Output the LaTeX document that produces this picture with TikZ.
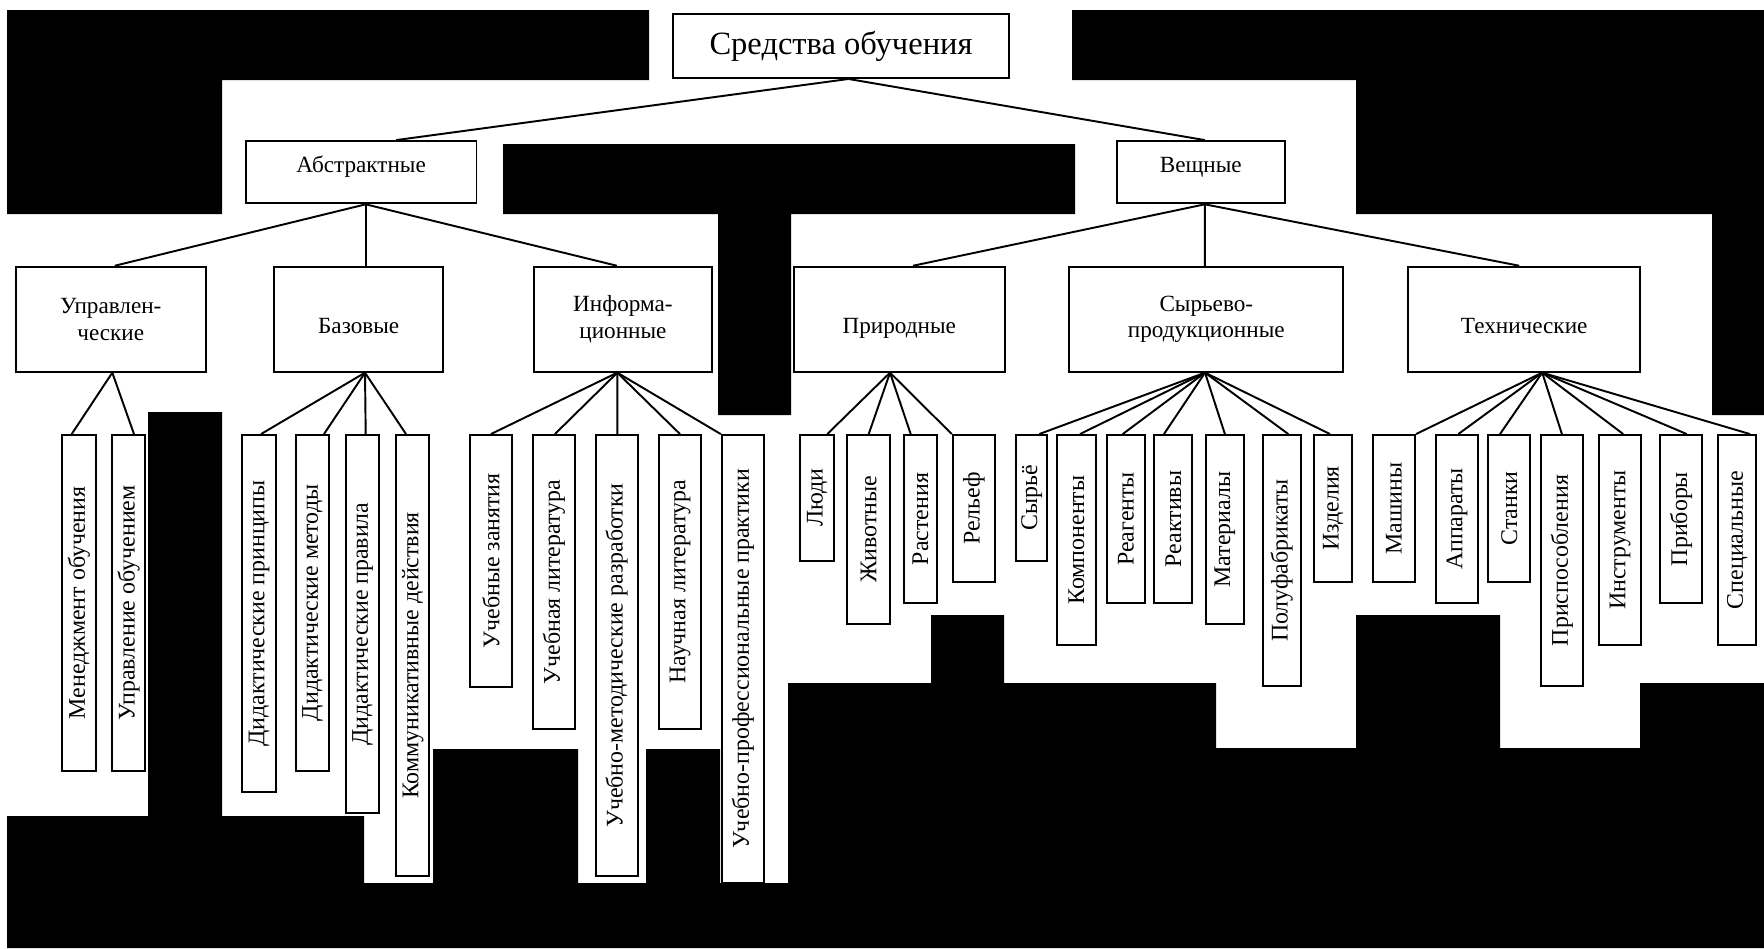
\documentclass[tikz,border=0pt]{standalone}
\usepackage{fontspec}
\setmainfont{Liberation Serif}
\usepackage{graphicx}
\usetikzlibrary{calc}

\newcommand{\vtext}[1]{\rotatebox{90}{\fontsize{13.6}{15}\selectfont #1}}

\begin{document}
\begin{tikzpicture}[x=0.02cm, y=-0.02cm,
  box/.style={draw, fill=white, line width=1.1pt, inner sep=0pt, align=center,
    font=\fontsize{13.2}{15.2}\selectfont},
  mid/.style={text height=6pt, text depth=6pt},
  low/.style={text height=18pt, text depth=2pt},
  link/.style={line width=1.1pt}]
 \useasboundingbox (0,0) rectangle (1764,948);
 % dark areas of the scan
 \fill (7,10) -- (649,10) -- (649,80) -- (222,80) -- (222,214) -- (7,214) -- cycle;
 \fill (503,144) -- (1075,144) -- (1075,214) -- (791,214) -- (791,415) -- (718,415)
   -- (718,214) -- (503,214) -- cycle;
 \fill (1072,10) -- (1764,10) -- (1764,415) -- (1712,415) -- (1712,214) -- (1356,214)
   -- (1356,80) -- (1072,80) -- cycle;
 \fill (7,948) -- (7,816) -- (148,816) -- (148,412) -- (222,412) -- (222,816) -- (364,816)
   -- (364,883) -- (433,883) -- (433,749) -- (578,749) -- (578,883) -- (646,883)
   -- (646,749) -- (720,749) -- (720,883) -- (788,883) -- (788,683) -- (931,683)
   -- (931,615) -- (1004,615) -- (1004,683) -- (1216,683) -- (1216,748) -- (1356,748)
   -- (1356,615) -- (1500,615) -- (1500,748) -- (1640,748) -- (1640,683) -- (1764,683)
   -- (1764,948) -- cycle;

 % top levels
 \node (title) [box, minimum width=6.72cm, minimum height=1.28cm,
   font=\fontsize{18.5}{22}\selectfont] at (841,46) {Средства обучения};
 \node (abs)  [box, mid, minimum width=4.616cm, minimum height=1.246cm] at (361.1,172.2) {Абстрактные};
 \node (vesh) [box, mid, minimum width=3.368cm, minimum height=1.246cm] at (1200.8,172.2) {Вещные};

 \node (upr)  [box, minimum width=3.79cm,  minimum height=2.1cm] at (110.8,319.2) {Управлен-\\ческие};
 \node (baz)  [box, low, minimum width=3.386cm, minimum height=2.1cm] at (358.7,319.2) {Базовые};
 \node (inf)  [box, minimum width=3.554cm, minimum height=2.1cm] at (622.9,319.2) {Информа-\\ционные};
 \node (prir) [box, low, minimum width=4.23cm,  minimum height=2.1cm] at (899.3,319.2) {Природные};
 \node (syr)  [box, minimum width=5.48cm,  minimum height=2.1cm] at (1206.3,319.2) {Сырьево-\\продукционные};
 \node (tech) [box, low, minimum width=4.634cm, minimum height=2.1cm] at (1524.2,319.2) {Технические};

 % leaves
 \node (men)   [box, minimum width=0.668cm, minimum height=6.712cm] at (79,602.8)    {\vtext{Менеджмент обучения}};
 \node (uprob) [box, minimum width=0.654cm, minimum height=6.712cm] at (128.7,602.8) {\vtext{Управление обучением}};
 \node (dp)    [box, minimum width=0.668cm, minimum height=7.14cm]  at (259,613.5)   {\vtext{Дидактические принципы}};
 \node (dm)    [box, minimum width=0.672cm, minimum height=6.712cm] at (312.5,602.8) {\vtext{Дидактические методы}};
 \node (dpr)   [box, minimum width=0.672cm, minimum height=7.56cm]  at (362.5,624)   {\vtext{Дидактические правила}};
 \node (kd)    [box, minimum width=0.666cm, minimum height=8.82cm]  at (412.7,655.5) {\vtext{Коммуникативные действия}};
 \node (uz)    [box, minimum width=0.834cm, minimum height=5.032cm] at (490.9,560.8) {\vtext{Учебные занятия}};
 \node (ul)    [box, minimum width=0.846cm, minimum height=5.88cm]  at (553.9,582)   {\vtext{Учебная литература}};
 \node (umr)   [box, minimum width=0.84cm,  minimum height=8.82cm]  at (616.7,655.5) {\vtext{Учебно-методические разработки}};
 \node (nl)    [box, minimum width=0.84cm,  minimum height=5.88cm]  at (680,582)     {\vtext{Научная литература}};
 \node (upp)   [box, minimum width=0.846cm, minimum height=8.96cm]  at (742.9,659)   {\vtext{Учебно-профессиональные практики}};

 \node (ludi)  [box, minimum width=0.68cm,  minimum height=2.512cm] at (817,497.8)    {\vtext{Люди}};
 \node (ziv)   [box, minimum width=0.854cm, minimum height=3.78cm]  at (868.7,529.5)  {\vtext{Животные}};
 \node (rast)  [box, minimum width=0.654cm, minimum height=3.36cm]  at (920.4,519)    {\vtext{Растения}};
 \node (rel)   [box, minimum width=0.846cm, minimum height=2.94cm]  at (973.9,508.5)  {\vtext{Рельеф}};
 \node (syre)  [box, minimum width=0.626cm, minimum height=2.512cm] at (1031.7,497.8) {\vtext{Сырьё}};
 \node (komp)  [box, minimum width=0.768cm, minimum height=4.2cm]   at (1076.5,540)   {\vtext{Компоненты}};
 \node (reag)  [box, minimum width=0.766cm, minimum height=3.36cm]  at (1125.9,519)   {\vtext{Реагенты}};
 \node (reakt) [box, minimum width=0.76cm,  minimum height=3.36cm]  at (1173.3,519)   {\vtext{Реактивы}};
 \node (mat)   [box, minimum width=0.766cm, minimum height=3.78cm]  at (1224.9,529.5) {\vtext{Материалы}};
 \node (pf)    [box, minimum width=0.76cm,  minimum height=5.02cm]  at (1281.7,560.5) {\vtext{Полуфабрикаты}};
 \node (izd)   [box, minimum width=0.766cm, minimum height=2.94cm]  at (1333.2,508.5) {\vtext{Изделия}};
 \node (mash)  [box, minimum width=0.846cm, minimum height=2.94cm]  at (1393.9,508.5) {\vtext{Машины}};
 \node (app)   [box, minimum width=0.84cm,  minimum height=3.36cm]  at (1457,519)     {\vtext{Аппараты}};
 \node (stan)  [box, minimum width=0.834cm, minimum height=2.94cm]  at (1509.2,508.5) {\vtext{Станки}};
 \node (prisp) [box, minimum width=0.846cm, minimum height=5.02cm]  at (1561.9,560.5) {\vtext{Приспособления}};
 \node (instr) [box, minimum width=0.834cm, minimum height=4.2cm]   at (1620.2,540)   {\vtext{Инструменты}};
 \node (prib)  [box, minimum width=0.846cm, minimum height=3.36cm]  at (1681.2,519)   {\vtext{Приборы}};
 \node (spec)  [box, minimum width=0.754cm, minimum height=4.2cm]   at (1737.2,540)   {\vtext{Специальные}};

 % connectors
 \draw [link] ($(title.south)+(7.5,0)$) -- ($(abs.north)+(35,0)$);
 \draw [link] ($(title.south)+(7.5,0)$) -- ($(vesh.north)+(4,0)$);

 \draw [link] ($(abs.south)+(4.6,0)$) -- ($(upr.north)+(4,0)$);
 \draw [link] ($(abs.south)+(4.6,0)$) -- ($(baz.north)+(7,0)$);
 \draw [link] ($(abs.south)+(4.6,0)$) -- ($(inf.north)+(-6,0)$);
 \draw [link] ($(vesh.south)+(4,0)$) -- ($(prir.north)+(13.7,0)$);
 \draw [link] ($(vesh.south)+(4,0)$) -- ($(syr.north)+(-1.5,0)$);
 \draw [link] ($(vesh.south)+(4,0)$) -- ($(tech.north)+(-5,0)$);

 \draw [link] ($(upr.south)+(1.5,0)$) -- ($(men.north)+(-7.3,0)$);
 \draw [link] ($(upr.south)+(1.5,0)$) -- ($(uprob.north)+(5.3,0)$);

 \draw [link] ($(baz.south)+(6.3,0)$) -- ($(dp.north)+(2,0)$);
 \draw [link] ($(baz.south)+(6.3,0)$) -- ($(dm.north)+(11.5,0)$);
 \draw [link] ($(baz.south)+(6.3,0)$) -- ($(dpr.north)+(3.2,0)$);
 \draw [link] ($(baz.south)+(6.3,0)$) -- ($(kd.north)+(-6.7,0)$);

 \draw [link] ($(inf.south)+(-5.6,0)$) -- (uz.north);
 \draw [link] ($(inf.south)+(-5.6,0)$) -- ($(ul.north)+(1,0)$);
 \draw [link] ($(inf.south)+(-5.6,0)$) -- ($(umr.north)+(0.6,0)$);
 \draw [link] ($(inf.south)+(-5.6,0)$) -- (nl.north);
 \draw [link] ($(inf.south)+(-5.6,0)$) -- (upp.north west);

 \draw [link] ($(prir.south)+(-9.3,0)$) -- ($(ludi.north)+(10.3,0)$);
 \draw [link] ($(prir.south)+(-9.3,0)$) -- (ziv.north);
 \draw [link] ($(prir.south)+(-9.3,0)$) -- ($(rast.north)+(-9.7,0)$);
 \draw [link] ($(prir.south)+(-9.3,0)$) -- (rel.north west);

 \draw [link] ($(syr.south)+(-1.3,0)$) -- ($(syre.north)+(7.6,0)$);
 \draw [link] ($(syr.south)+(-1.3,0)$) -- ($(komp.north)+(3.5,0)$);
 \draw [link] ($(syr.south)+(-1.3,0)$) -- ($(reag.north)+(-3.2,0)$);
 \draw [link] ($(syr.south)+(-1.3,0)$) -- ($(reakt.north)+(-9.3,0)$);
 \draw [link] ($(syr.south)+(-1.3,0)$) -- (mat.north);
 \draw [link] ($(syr.south)+(-1.3,0)$) -- ($(pf.north)+(6.6,0)$);
 \draw [link] ($(syr.south)+(-1.3,0)$) -- ($(izd.north)+(-3.2,0)$);

 \draw [link] ($(tech.south)+(18,0)$) -- (mash.north east);
 \draw [link] ($(tech.south)+(18,0)$) -- ($(app.north)+(1.3,0)$);
 \draw [link] ($(tech.south)+(18,0)$) -- ($(stan.north)+(-9.2,0)$);
 \draw [link] ($(tech.south)+(18,0)$) -- (prisp.north);
 \draw [link] ($(tech.south)+(18,0)$) -- ($(instr.north)+(3,0)$);
 \draw [link] ($(tech.south)+(18,0)$) -- ($(prib.north)+(5.5,0)$);
 \draw [link] ($(tech.south)+(18,0)$) -- ($(spec.north)+(12.8,0)$);
\end{tikzpicture}
\end{document}
